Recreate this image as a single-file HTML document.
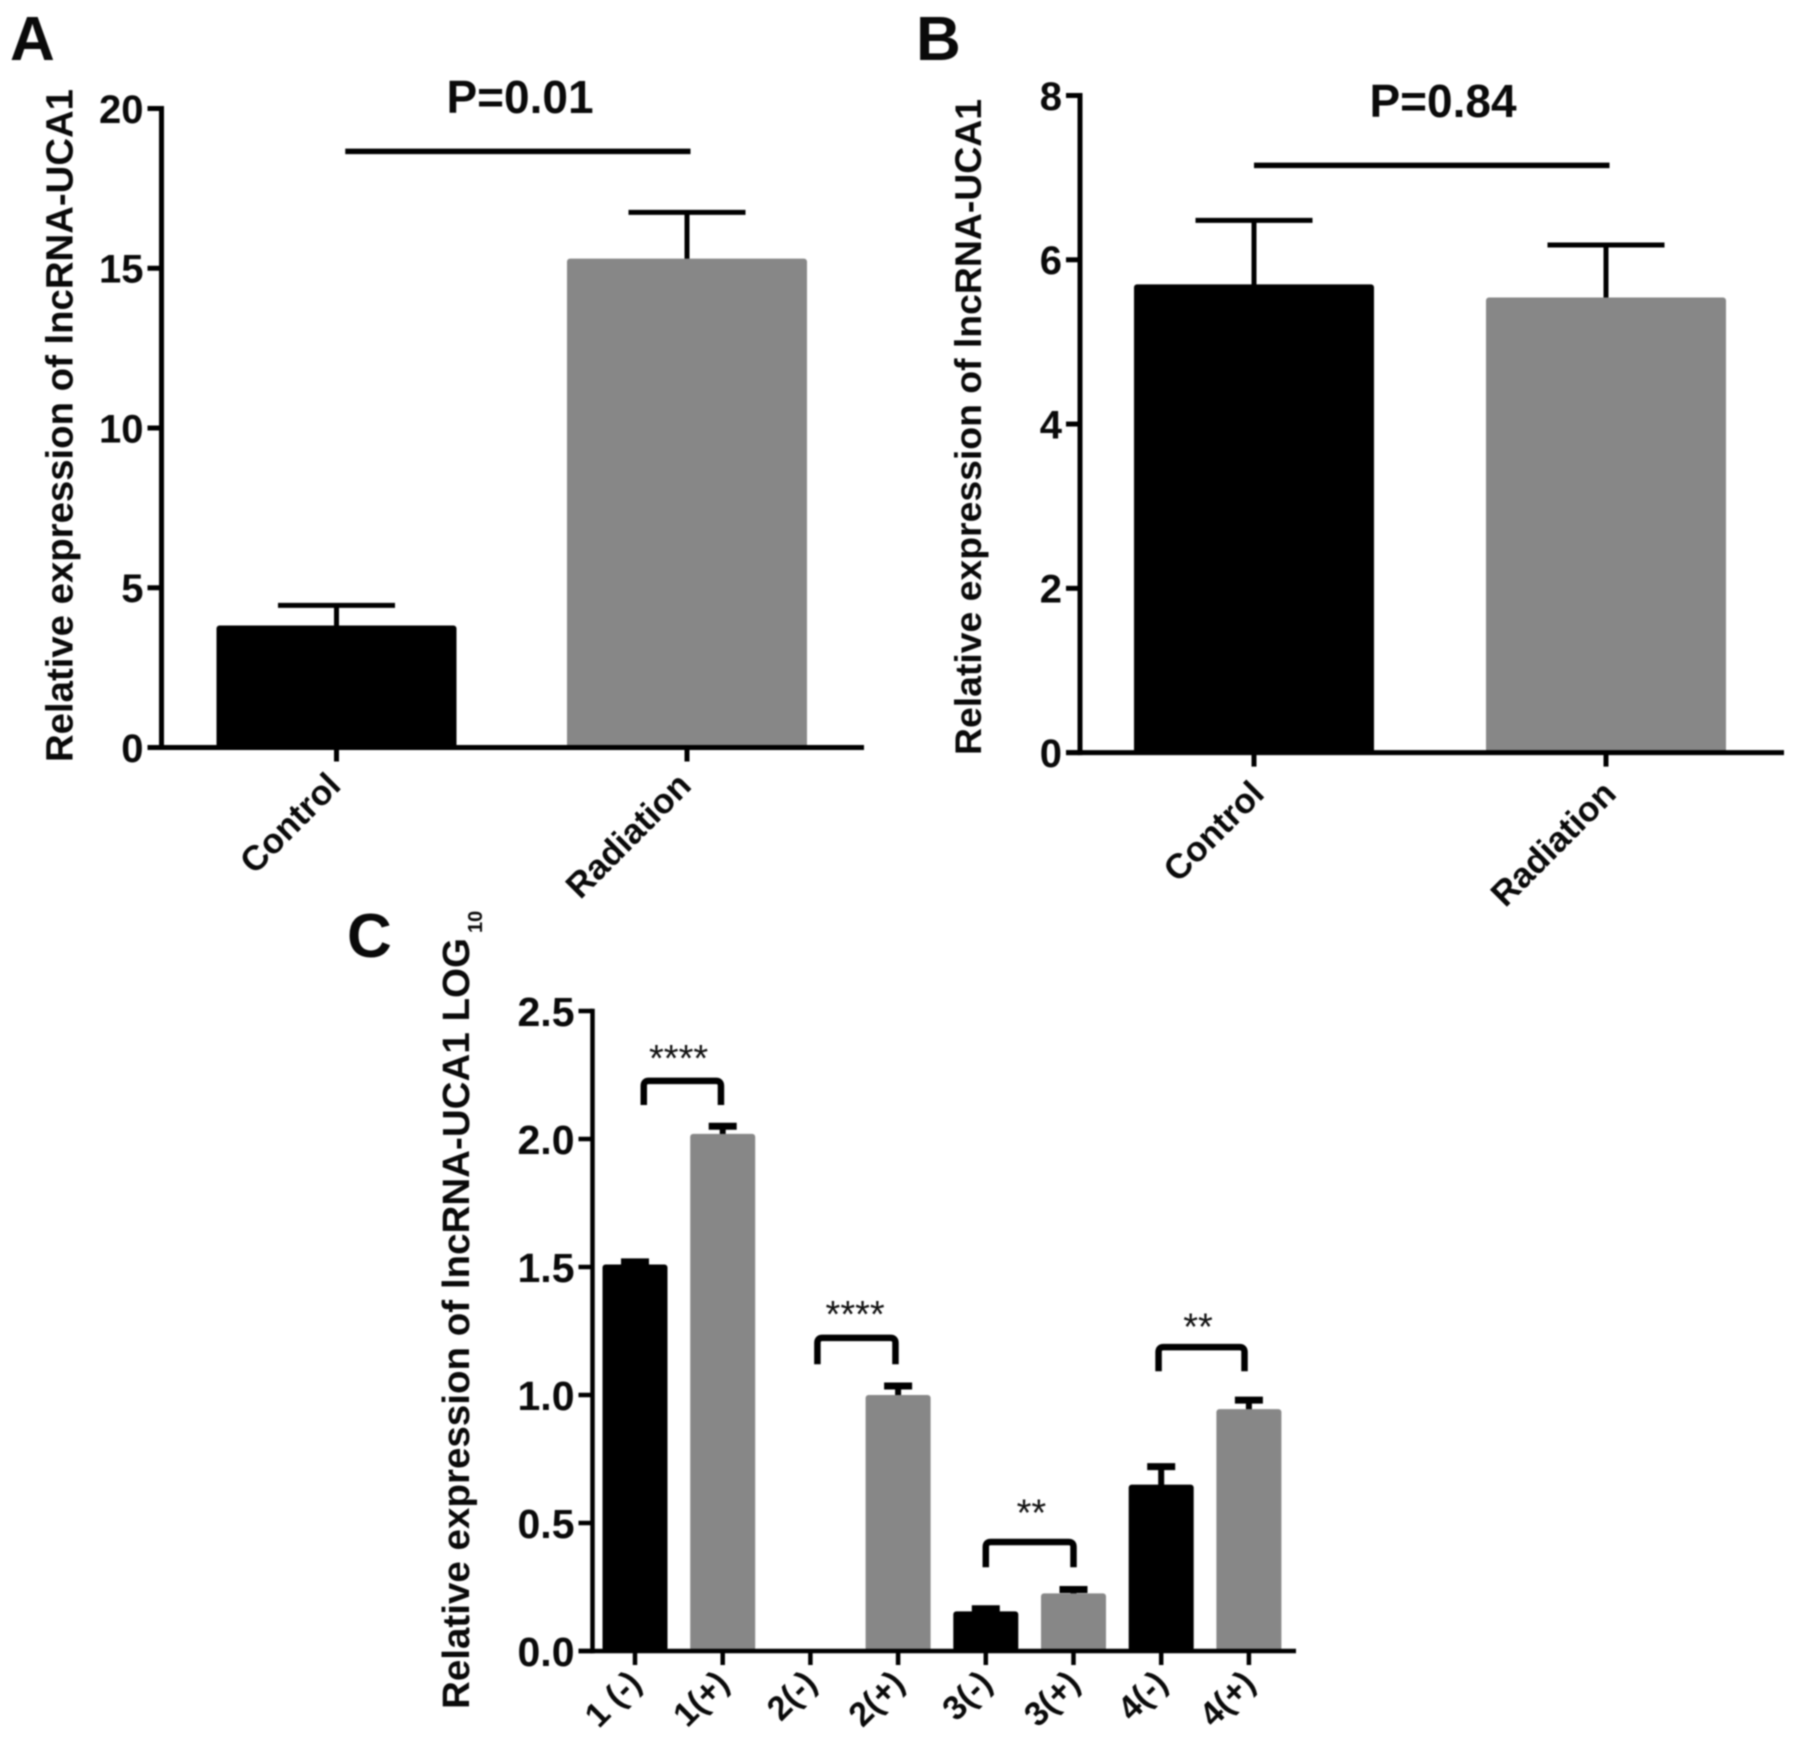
<!DOCTYPE html>
<html lang="en">
<head>
<meta charset="utf-8">
<title>Relative expression of lncRNA-UCA1</title>
<style>
html,body{margin:0;padding:0;background:#fff;width:1795px;height:1747px;overflow:hidden}
svg{display:block;filter:blur(0.7px)}
text{font-family:"Liberation Sans",Arial,sans-serif;font-weight:700;fill:#0a0a0a}
</style>
</head>
<body>
<svg id="figure" xmlns="http://www.w3.org/2000/svg" width="1795" height="1747" viewBox="0 0 1795 1747">
  <rect width="1795" height="1747" fill="#fff"/>
  <text x="10" y="60" font-size="62">A</text>
  <text x="916" y="60" font-size="62">B</text>
  <text x="347" y="957" font-size="62">C</text>
  <text transform="translate(72.5,762) rotate(-90)" font-size="38" textLength="673" lengthAdjust="spacingAndGlyphs">Relative expression of lncRNA-UCA1</text>
  <text transform="translate(981,755) rotate(-90)" font-size="37" textLength="656" lengthAdjust="spacingAndGlyphs">Relative expression of lncRNA-UCA1</text>
  <text transform="translate(469,1709) rotate(-90)" font-size="38" textLength="771" lengthAdjust="spacingAndGlyphs">Relative expression of lncRNA-UCA1 LOG</text>
  <text transform="translate(482,933) rotate(-90)" font-size="20">10</text>
  <text x="520" y="113" font-size="46" text-anchor="middle">P=0.01</text>
  <text x="1443" y="117" font-size="46" text-anchor="middle">P=0.84</text>
  <g id="panel-a"></g>
  <g id="panel-b"></g>
  <g id="panel-c"></g>
</svg>
<script>
/* Panel A data */
const aCategories = ['Control', 'Radiation'];
const aValues = [3.82, 15.3];
const aErrorTops = [4.45, 16.75];
const aYTicks = [0, 5, 10, 15, 20];
const aYTickLabels = ['0', '5', '10', '15', '20'];
const aSignificance = [18.66];
const aSignificanceSpan = [0.025, 1.01];

/* Panel B data */
const bCategories = ['Control', 'Radiation'];
const bValues = [5.7, 5.54];
const bErrorTops = [6.48, 6.18];
const bYTicks = [0, 2, 4, 6, 8];
const bYTickLabels = ['0', '2', '4', '6', '8'];
const bSignificance = [7.15];
const bSignificanceSpan = [0, 1.01];

/* Panel C data */
const cCategories = ['1 (-)', '1(+)', '2(-)', '2(+)', '3(-)', '3(+)', '4(-)', '4(+)'];
const cValues = [1.51, 2.02, 0, 1.0, 0.155, 0.225, 0.65, 0.945];
const cErrorTops = [1.52, 2.05, 0, 1.035, 0.165, 0.24, 0.72, 0.98];
const cYTicks = [0, 0.5, 1, 1.5, 2, 2.5];
const cYTickLabels = ['0.0', '0.5', '1.0', '1.5', '2.0', '2.5'];
const cBracketStars = ['****', '****', '**', '**'];
const cBracketTops = [2.227, 1.223, 0.426, 1.187];
const cBracketBottoms = [2.133, 1.12, 0.327, 1.093];
const cBracketLefts = [0.1, 2.08, 4, 5.97];
const cBracketRights = [0.98, 2.97, 5, 6.95];
const cStarLevels = [2.33, 1.331, 0.556, 1.281];
const cStarCenters = [0.497, 2.51, 4.52, 6.42];

const NS = 'http://www.w3.org/2000/svg';
const BLACK = '#000';
const GREY = '#878787';

function make(tag, attrs, parent) {
  const el = document.createElementNS(NS, tag);
  for (const k in attrs) el.setAttribute(k, attrs[k]);
  parent.appendChild(el);
  return el;
}

function drawChart(cfg) {
  const g = document.getElementById(cfg.id);
  const yMax = cfg.yTicks[cfg.yTicks.length - 1];
  const y = v => cfg.y0 - (v / yMax) * (cfg.y0 - cfg.yTop);
  const x = i => cfg.x0 + i * cfg.step;
  cfg.scaleX = x;
  cfg.scaleY = y;

  cfg.values.forEach((v, i) => {
    const color = i % 2 === 0 ? BLACK : GREY;
    const top = y(cfg.errorTops[i]);
    if (v > 0) {
      const stem = make('line', {x1: x(i), x2: x(i), y1: top, y2: y(v) + 3, stroke: '#000', 'stroke-width': cfg.stemW}, g);
      
      
      const cap = make('line', {x1: x(i) - cfg.capW / 2, x2: x(i) + cfg.capW / 2, y1: top, y2: top, stroke: '#000', 'stroke-width': cfg.capT}, g);
      
      
      const bar = make('rect', {x: x(i) - cfg.barW / 2, y: y(v), width: cfg.barW, height: cfg.y0 - y(v), rx: 3, fill: color}, g);
      
      
    }
    const tick = make('line', {x1: x(i), x2: x(i), y1: cfg.y0, y2: cfg.y0 + cfg.tickLen, stroke: '#000', 'stroke-width': cfg.lw}, g);
    
    
    const lx = x(i) + cfg.labelDx;
    const ly = cfg.y0 + cfg.labelDy;
    const label = make('text', {x: lx, y: ly, 'font-size': cfg.xFont, 'text-anchor': 'end', transform: 'rotate(-45 ' + lx + ' ' + ly + ')'}, g);
    label.textContent = cfg.categories[i];
    
    
  });

  const yAxis = make('line', {x1: cfg.axisX, x2: cfg.axisX, y1: y(yMax) - cfg.lw / 2, y2: cfg.y0 + cfg.lw / 2, stroke: '#000', 'stroke-width': cfg.lw}, g);
  
  
  const xAxis = make('line', {x1: cfg.axisX - cfg.tickLen, x2: cfg.axisEnd, y1: cfg.y0, y2: cfg.y0, stroke: '#000', 'stroke-width': cfg.lw}, g);
  
  

  cfg.yTicks.forEach((t, i) => {
    const tick = make('line', {x1: cfg.axisX - cfg.tickLen, x2: cfg.axisX, y1: y(t), y2: y(t), stroke: '#000', 'stroke-width': cfg.lw}, g);
    
    
    const label = make('text', {x: cfg.axisX - cfg.tickLen - 4, y: y(t) + cfg.yFont * 0.36, 'font-size': cfg.yFont, 'text-anchor': 'end'}, g);
    label.textContent = cfg.yTickLabels[i];
    
    
  });
  return cfg;
}

const chartA = drawChart({id: 'panel-a', categories: aCategories, values: aValues, errorTops: aErrorTops,
  yTicks: aYTicks, yTickLabels: aYTickLabels, axisX: 161.5, axisEnd: 864, y0: 747.5, yTop: 108.5,
  x0: 336.5, step: 350.5, barW: 240, capW: 117, capT: 5, stemW: 5, lw: 5, tickLen: 14,
  xFont: 35, yFont: 40, labelDx: 6, labelDy: 40});
const chartB = drawChart({id: 'panel-b', categories: bCategories, values: bValues, errorTops: bErrorTops,
  yTicks: bYTicks, yTickLabels: bYTickLabels, axisX: 1080, axisEnd: 1784, y0: 752.6, yTop: 95.5,
  x0: 1254, step: 352, barW: 240, capW: 117, capT: 5, stemW: 5, lw: 5, tickLen: 14,
  xFont: 35, yFont: 40, labelDx: 12, labelDy: 43});
const chartC = drawChart({id: 'panel-c', categories: cCategories, values: cValues, errorTops: cErrorTops,
  yTicks: cYTicks, yTickLabels: cYTickLabels, axisX: 592.5, axisEnd: 1296, y0: 1651, yTop: 1011,
  x0: 635, step: 87.7, barW: 65, capW: 28, capT: 7, stemW: 6, lw: 4.5, tickLen: 14,
  xFont: 34, yFont: 41, labelDx: 8, labelDy: 34});

/* P-value lines spanning the two groups */
const aGroup = document.getElementById('panel-a');
const aLine = make('line', {x1: chartA.scaleX(aSignificanceSpan[0]), x2: chartA.scaleX(aSignificanceSpan[1]), y1: chartA.scaleY(aSignificance[0]), y2: chartA.scaleY(aSignificance[0]), stroke: '#000', 'stroke-width': 5.5}, aGroup);


const bGroup = document.getElementById('panel-b');
const bLine = make('line', {x1: chartB.scaleX(bSignificanceSpan[0]), x2: chartB.scaleX(bSignificanceSpan[1]), y1: chartB.scaleY(bSignificance[0]), y2: chartB.scaleY(bSignificance[0]), stroke: '#000', 'stroke-width': 5.5}, bGroup);



/* Panel C brackets: each spans a (-)/(+) category pair */
const cGroup = document.getElementById('panel-c');
cBracketStars.forEach((stars, n) => {
  const xl = chartC.scaleX(cBracketLefts[n]);
  const xr = chartC.scaleX(cBracketRights[n]);
  const t = chartC.scaleY(cBracketTops[n]);
  const b = chartC.scaleY(cBracketBottoms[n]);
  const path = make('path', {d: 'M' + xl + ' ' + b + 'V' + (t + 5) + 'Q' + xl + ' ' + t + ' ' + (xl + 5) + ' ' + t + 'H' + (xr - 5) + 'Q' + xr + ' ' + t + ' ' + xr + ' ' + (t + 5) + 'V' + b, fill: 'none', stroke: '#000', 'stroke-width': 6.5}, cGroup);
  
  
  const label = make('text', {x: chartC.scaleX(cStarCenters[n]), y: chartC.scaleY(cStarLevels[n]) + 16.6, 'font-size': 38, 'text-anchor': 'middle', style: 'font-weight:400;fill:#111'}, cGroup);
  label.textContent = stars;
  
  
});
</script>
</body>
</html>
